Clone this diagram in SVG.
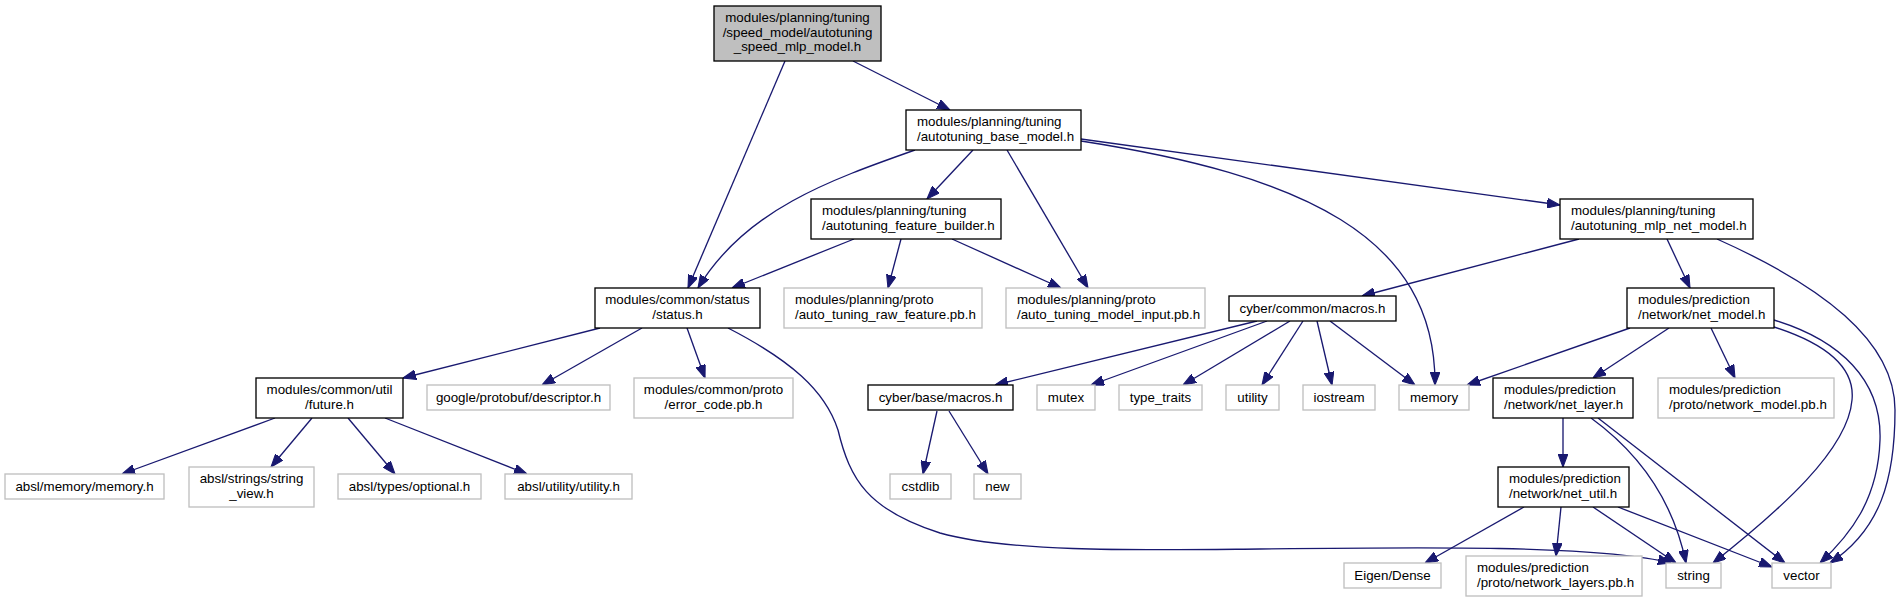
<svg xmlns="http://www.w3.org/2000/svg" width="1901" height="603" viewBox="0 0 1901 603">
<style>
text{font-family:"Liberation Sans",Arial,Helvetica,sans-serif;font-size:13.33px;fill:#000}
.c{text-anchor:middle}
.l{text-anchor:start}
.n rect{fill:#fff;stroke:#000;stroke-width:1.33}
.g rect{fill:#fff;stroke:#bfbfbf;stroke-width:1.33}
.r rect{fill:#bfbfbf;stroke:#000;stroke-width:1.33}
#edges path{fill:none;stroke:#191970;stroke-width:1.33;marker-end:url(#a)}
</style>
<defs>
<marker id="a" markerUnits="userSpaceOnUse" markerWidth="13" markerHeight="10" refX="12" refY="4.5" orient="auto" viewBox="0 0 12 9">
<path d="M0,0 L12,4.5 L0,9 z" fill="#191970" stroke="#191970" stroke-width="1"/>
</marker>
</defs>
<rect width="1901" height="603" fill="#fff"/>

<g id="edges">
<path d="M785,61 L688,288"/>
<path d="M853,61 L950,110"/>
<path d="M915,150 C830,180 745,210 698,288"/>
<path d="M973,150 L927,199"/>
<path d="M1007,150 L1088,288"/>
<path d="M1081,141 C1300,175 1436,235 1435,385"/>
<path d="M1081,139 L1560,205"/>
<path d="M854,239 L732,288"/>
<path d="M901,239 L888,288"/>
<path d="M952,239 L1061,288"/>
<path d="M1579,239 L1362,296"/>
<path d="M1667,239 L1690,288"/>
<path d="M1717,239 C1820,285 1895,340 1895,410 C1895,480 1880,530 1830,563"/>
<path d="M600,328 L403,378"/>
<path d="M642,328 L542,385"/>
<path d="M687,328 L705,378"/>
<path d="M728,328 C790,360 825,390 838,430 C850,480 868,510 940,533 C1010,553 1150,550 1260,549 C1420,547 1600,545 1671,563"/>
<path d="M1257,321 L995,385"/>
<path d="M1267,321 L1091,385"/>
<path d="M1290,321 L1183,385"/>
<path d="M1303,321 L1262,385"/>
<path d="M1317,321 L1332,385"/>
<path d="M1330,321 L1415,385"/>
<path d="M1630,328 L1467,385"/>
<path d="M1669,328 L1593,378"/>
<path d="M1711,328 L1735,378"/>
<path d="M1774,327 C1830,345 1855,370 1852,400 C1848,450 1780,510 1713,563"/>
<path d="M1774,320 C1840,340 1882,380 1880,440 C1878,500 1850,535 1820,563"/>
<path d="M275,418 L122,474"/>
<path d="M312,418 L271,467"/>
<path d="M348,418 L395,474"/>
<path d="M385,418 L527,474"/>
<path d="M937,411 L923,474"/>
<path d="M949,411 L988,474"/>
<path d="M1563,418 L1563,467"/>
<path d="M1591,418 C1635,450 1672,495 1686,563"/>
<path d="M1598,418 L1785,563"/>
<path d="M1524,507 L1425,563"/>
<path d="M1561,507 L1556,556"/>
<path d="M1593,507 L1676,563"/>
<path d="M1618,507 L1772,567"/>
</g>

<g id="node1" class="r"><rect x="714" y="6" width="167" height="55"/>
<text class="c" x="797.5" y="22">modules/planning/tuning</text>
<text class="c" x="797.5" y="36.7">/speed_model/autotuning</text>
<text class="c" x="797.5" y="51.3">_speed_mlp_model.h</text></g>

<g id="node2" class="n"><rect x="906" y="110" width="175" height="40"/>
<text class="l" x="917" y="126">modules/planning/tuning</text>
<text class="l" x="917" y="140.7">/autotuning_base_model.h</text></g>

<g id="node3" class="n"><rect x="811" y="199" width="190" height="40"/>
<text class="l" x="822" y="215">modules/planning/tuning</text>
<text class="l" x="822" y="229.7">/autotuning_feature_builder.h</text></g>

<g id="node4" class="n"><rect x="1560" y="199" width="193" height="40"/>
<text class="l" x="1571" y="215">modules/planning/tuning</text>
<text class="l" x="1571" y="229.7">/autotuning_mlp_net_model.h</text></g>

<g id="node5" class="n"><rect x="595" y="288" width="165" height="40"/>
<text class="c" x="677.5" y="304">modules/common/status</text>
<text class="c" x="677.5" y="318.7">/status.h</text></g>

<g id="node6" class="g"><rect x="784" y="288" width="198" height="40"/>
<text class="l" x="795" y="304">modules/planning/proto</text>
<text class="l" x="795" y="318.7">/auto_tuning_raw_feature.pb.h</text></g>

<g id="node7" class="g"><rect x="1006" y="288" width="199" height="40"/>
<text class="l" x="1017" y="304">modules/planning/proto</text>
<text class="l" x="1017" y="318.7">/auto_tuning_model_input.pb.h</text></g>

<g id="node8" class="n"><rect x="1229" y="296" width="167" height="25"/>
<text class="c" x="1312.5" y="312.5">cyber/common/macros.h</text></g>

<g id="node9" class="n"><rect x="1627" y="288" width="147" height="40"/>
<text class="l" x="1638" y="304">modules/prediction</text>
<text class="l" x="1638" y="318.7">/network/net_model.h</text></g>

<g id="node10" class="n"><rect x="256" y="378" width="147" height="40"/>
<text class="c" x="329.5" y="394">modules/common/util</text>
<text class="c" x="329.5" y="408.7">/future.h</text></g>

<g id="node11" class="g"><rect x="427" y="385" width="183" height="25"/>
<text class="c" x="518.5" y="401.5">google/protobuf/descriptor.h</text></g>

<g id="node12" class="g"><rect x="634" y="378" width="159" height="40"/>
<text class="c" x="713.5" y="394">modules/common/proto</text>
<text class="c" x="713.5" y="408.7">/error_code.pb.h</text></g>

<g id="node13" class="n"><rect x="868" y="385" width="145" height="25"/>
<text class="c" x="940.5" y="401.5">cyber/base/macros.h</text></g>

<g id="node14" class="g"><rect x="1037" y="385" width="58" height="25"/>
<text class="c" x="1066" y="401.5">mutex</text></g>

<g id="node15" class="g"><rect x="1119" y="385" width="83" height="25"/>
<text class="c" x="1160.5" y="401.5">type_traits</text></g>

<g id="node16" class="g"><rect x="1226" y="385" width="53" height="25"/>
<text class="c" x="1252.5" y="401.5">utility</text></g>

<g id="node17" class="g"><rect x="1303" y="385" width="72" height="25"/>
<text class="c" x="1339" y="401.5">iostream</text></g>

<g id="node18" class="g"><rect x="1399" y="385" width="70" height="25"/>
<text class="c" x="1434" y="401.5">memory</text></g>

<g id="node19" class="n"><rect x="1493" y="378" width="140" height="40"/>
<text class="l" x="1504" y="394">modules/prediction</text>
<text class="l" x="1504" y="408.7">/network/net_layer.h</text></g>

<g id="node20" class="g"><rect x="1658" y="378" width="176" height="40"/>
<text class="l" x="1669" y="394">modules/prediction</text>
<text class="l" x="1669" y="408.7">/proto/network_model.pb.h</text></g>

<g id="node21" class="g"><rect x="5" y="474" width="159" height="25"/>
<text class="c" x="84.5" y="490.5">absl/memory/memory.h</text></g>

<g id="node22" class="g"><rect x="189" y="467" width="125" height="40"/>
<text class="c" x="251.5" y="483">absl/strings/string</text>
<text class="c" x="251.5" y="497.7">_view.h</text></g>

<g id="node23" class="g"><rect x="338" y="474" width="143" height="25"/>
<text class="c" x="409.5" y="490.5">absl/types/optional.h</text></g>

<g id="node24" class="g"><rect x="505" y="474" width="127" height="25"/>
<text class="c" x="568.5" y="490.5">absl/utility/utility.h</text></g>

<g id="node25" class="g"><rect x="890" y="474" width="61" height="25"/>
<text class="c" x="920.5" y="490.5">cstdlib</text></g>

<g id="node26" class="g"><rect x="974" y="474" width="47" height="25"/>
<text class="c" x="997.5" y="490.5">new</text></g>

<g id="node27" class="n"><rect x="1498" y="467" width="131" height="40"/>
<text class="l" x="1509" y="483">modules/prediction</text>
<text class="l" x="1509" y="497.7">/network/net_util.h</text></g>

<g id="node28" class="g"><rect x="1344" y="563" width="97" height="25"/>
<text class="c" x="1392.5" y="579.5">Eigen/Dense</text></g>

<g id="node29" class="g"><rect x="1466" y="556" width="176" height="40"/>
<text class="l" x="1477" y="572">modules/prediction</text>
<text class="l" x="1477" y="586.7">/proto/network_layers.pb.h</text></g>

<g id="node30" class="g"><rect x="1666" y="563" width="55" height="25"/>
<text class="c" x="1693.5" y="579.5">string</text></g>

<g id="node31" class="g"><rect x="1772" y="563" width="59" height="25"/>
<text class="c" x="1801.5" y="579.5">vector</text></g>
</svg>
